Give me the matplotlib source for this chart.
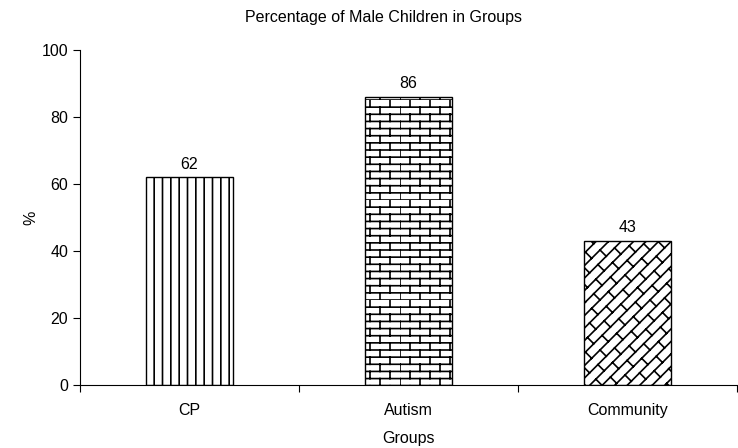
import warnings
import numpy as np
import matplotlib
matplotlib.use("Agg")
import matplotlib.pyplot as plt
from matplotlib import hatch as mhatch
from matplotlib.path import Path

warnings.filterwarnings("ignore")

# data
groups = ["CP", "Autism", "Community"]
male_pct = [62, 86, 43]


def brick_segments(rows=14, cols=5):
    h, w = 1.0 / rows, 1.0 / cols
    segs = []
    for r in range(rows):
        y = r * h
        segs.append(((0.0, y), (1.0, y)))
        off = 0.0 if r % 2 == 0 else w / 2
        for c in range(cols):
            x = c * w + off
            segs.append(((x, y), (x, y + h)))
    return segs


def weave_segments(m=8, p=6):
    # '/' lines with staggered short '\' links between them
    segs = []
    L = 1.0 / p
    for k in range(-2 * m, 2 * m + 1):
        ck = k / m
        segs.append(((-1.0, -1.0 + ck), (2.0, 2.0 + ck)))
        off = -k / (2 * m) + (L / 2 if k % 2 else 0.0)
        for j in range(-3 * p, 3 * p + 1):
            t = j * L + off
            segs.append(((t, t + ck), (t - 0.5 / m, t + ck + 0.5 / m)))
    return segs


class CustomHatch(mhatch.HatchPatternBase):
    # 'b' = bricks, 'w' = diagonal weave
    def __init__(self, hatch, density):
        self.segs = []
        if 'b' in hatch:
            self.segs += brick_segments()
        if 'w' in hatch:
            self.segs += weave_segments()
        self.num_vertices = 2 * len(self.segs)

    def set_vertices_and_codes(self, vertices, codes):
        for i, (a, b) in enumerate(self.segs):
            vertices[2 * i] = a
            vertices[2 * i + 1] = b
            codes[2 * i] = Path.MOVETO
            codes[2 * i + 1] = Path.LINETO


mhatch._hatch_types.append(CustomHatch)

plt.rcParams['font.family'] = ['Liberation Sans', 'DejaVu Sans']
plt.rcParams['hatch.linewidth'] = 1.2

fig = plt.figure(figsize=(7.38, 4.48), dpi=100)
ax = fig.add_axes([0.1084, 0.1406, 0.8902, 0.7478])

x = np.arange(len(groups))
hatches = ['||', 'b', 'w']
bars = ax.bar(x, male_pct, width=0.4, color='white', edgecolor='black',
              linewidth=1.0)
for b, h in zip(bars, hatches):
    b.set_hatch(h)

for xi, v in zip(x, male_pct):
    ax.annotate(str(v), (xi, v), xytext=(0, 4), textcoords='offset points',
                ha='center', va='bottom', fontsize=11.5)

ax.set_xlim(-0.5, 2.5)
ax.set_ylim(0, 100)
ax.set_yticks([0, 20, 40, 60, 80, 100])
ax.set_xticks(x)
ax.set_xticklabels(groups, fontsize=11.5)
ax.set_xticks([-0.5, 0.5, 1.5, 2.5], minor=True)
ax.tick_params(axis='x', which='major', length=0, pad=13)
ax.tick_params(axis='x', which='minor', length=5, direction='out', width=0.8)
ax.tick_params(axis='y', length=5, width=0.8, labelsize=11.5)

ax.spines['top'].set_visible(False)
ax.spines['right'].set_visible(False)
ax.spines['left'].set_linewidth(0.8)
ax.spines['bottom'].set_linewidth(0.8)

ax.set_xlabel('Groups', fontsize=11.5, labelpad=9)
ax.set_ylabel('%', fontsize=11.5, labelpad=2)
fig.text(0.52, 0.96, 'Percentage of Male Children in Groups', fontsize=11.5,
         ha='center', va='center')

fig.savefig('out.png', dpi=100)
